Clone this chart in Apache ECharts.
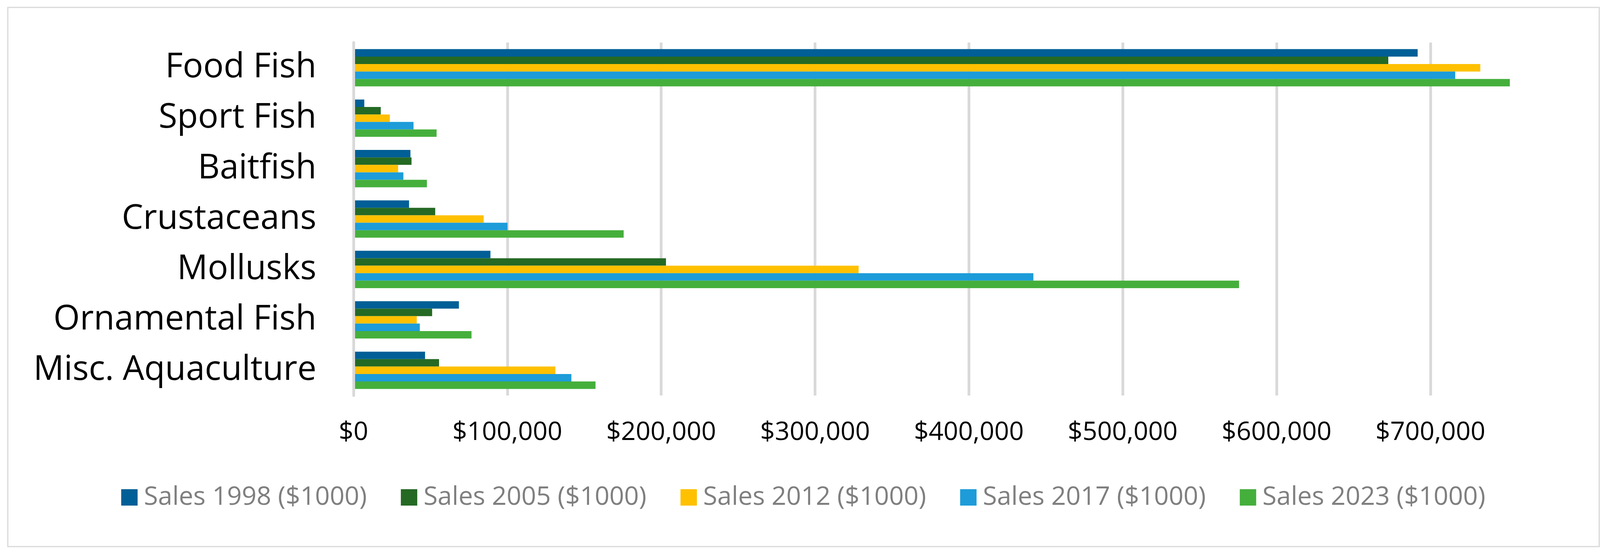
<!DOCTYPE html>
<html>
<head>
<meta charset="utf-8">
<script src="https://cdn.jsdelivr.net/npm/echarts@6/dist/echarts.min.js"></script>
<style>
html,body{margin:0;padding:0;background:#fff;}
#chart{width:4113px;height:1419px;}
</style>
</head>
<body>
<div id="chart"></div>
<script>
const categories = ['Food Fish','Sport Fish','Baitfish','Crustaceans','Mollusks','Ornamental Fish','Misc. Aquaculture'];
const seriesNames = ['Sales 1998 ($1000)','Sales 2005 ($1000)','Sales 2012 ($1000)','Sales 2017 ($1000)','Sales 2023 ($1000)'];
const sales1998 = [691700, 7000, 37000, 36100, 89000, 68500, 46500];
const sales2005 = [672600, 17700, 37700, 53100, 203100, 51100, 55600];
const sales2012 = [732400, 23600, 29000, 84600, 328300, 41100, 131200];
const sales2017 = [716100, 39000, 32400, 100100, 441900, 43100, 141600];
const sales2023 = [751600, 54000, 47700, 175600, 575600, 76700, 157300];
const seriesColors = ['#005F96','#246924','#FFC000','#1D9CD9','#45AF3C'];
const allValues = [sales1998, sales2005, sales2012, sales2017, sales2023];

const chart = echarts.init(document.getElementById('chart'), null, {renderer:'canvas'});
const FONT = 'Open Sans';
chart.setOption({
  backgroundColor:'#ffffff',
  animation:false,
  textStyle:{fontFamily:FONT},
  graphic:[{
    type:'rect', silent:true,
    shape:{x:20,y:19,width:4074,height:1381},
    style:{fill:'none',stroke:'#d9d9d9',lineWidth:3}
  }],
  grid:{left:905,right:136,top:109,bottom:406,containLabel:false},
  legend:{
    data:seriesNames,
    left:'center',
    top:1236,
    itemWidth:42,
    itemHeight:42,
    itemGap:87,
    icon:'rect',
    textStyle:{fontFamily:FONT,fontSize:66,color:'#7f7f7f',padding:[0,0,0,11]}
  },
  xAxis:{
    type:'value',
    min:0,
    max:780000,
    interval:100000,
    axisLine:{show:false},
    axisTick:{show:false},
    splitLine:{show:true,showMaxLine:false,lineStyle:{color:'#d9d9d9',width:7}},
    axisLabel:{
      showMaxLabel:false,
      fontFamily:FONT,fontSize:66,color:'#000',margin:62,
      formatter:function(v){return '$'+v.toLocaleString('en-US');}
    }
  },
  yAxis:{
    type:'category',
    data:categories,
    inverse:true,
    z:5,
    axisLine:{show:true,lineStyle:{color:'#d9d9d9',width:7}},
    axisTick:{show:false},
    axisLabel:{fontFamily:FONT,fontSize:87,color:'#000',margin:95}
  },
  series:seriesNames.map(function(name,i){
    return {
      name:name,
      type:'bar',
      data:allValues[i],
      barGap:'0%',
      barCategoryGap:'26%',
      itemStyle:{color:seriesColors[i]}
    };
  })
});
</script>
</body>
</html>
